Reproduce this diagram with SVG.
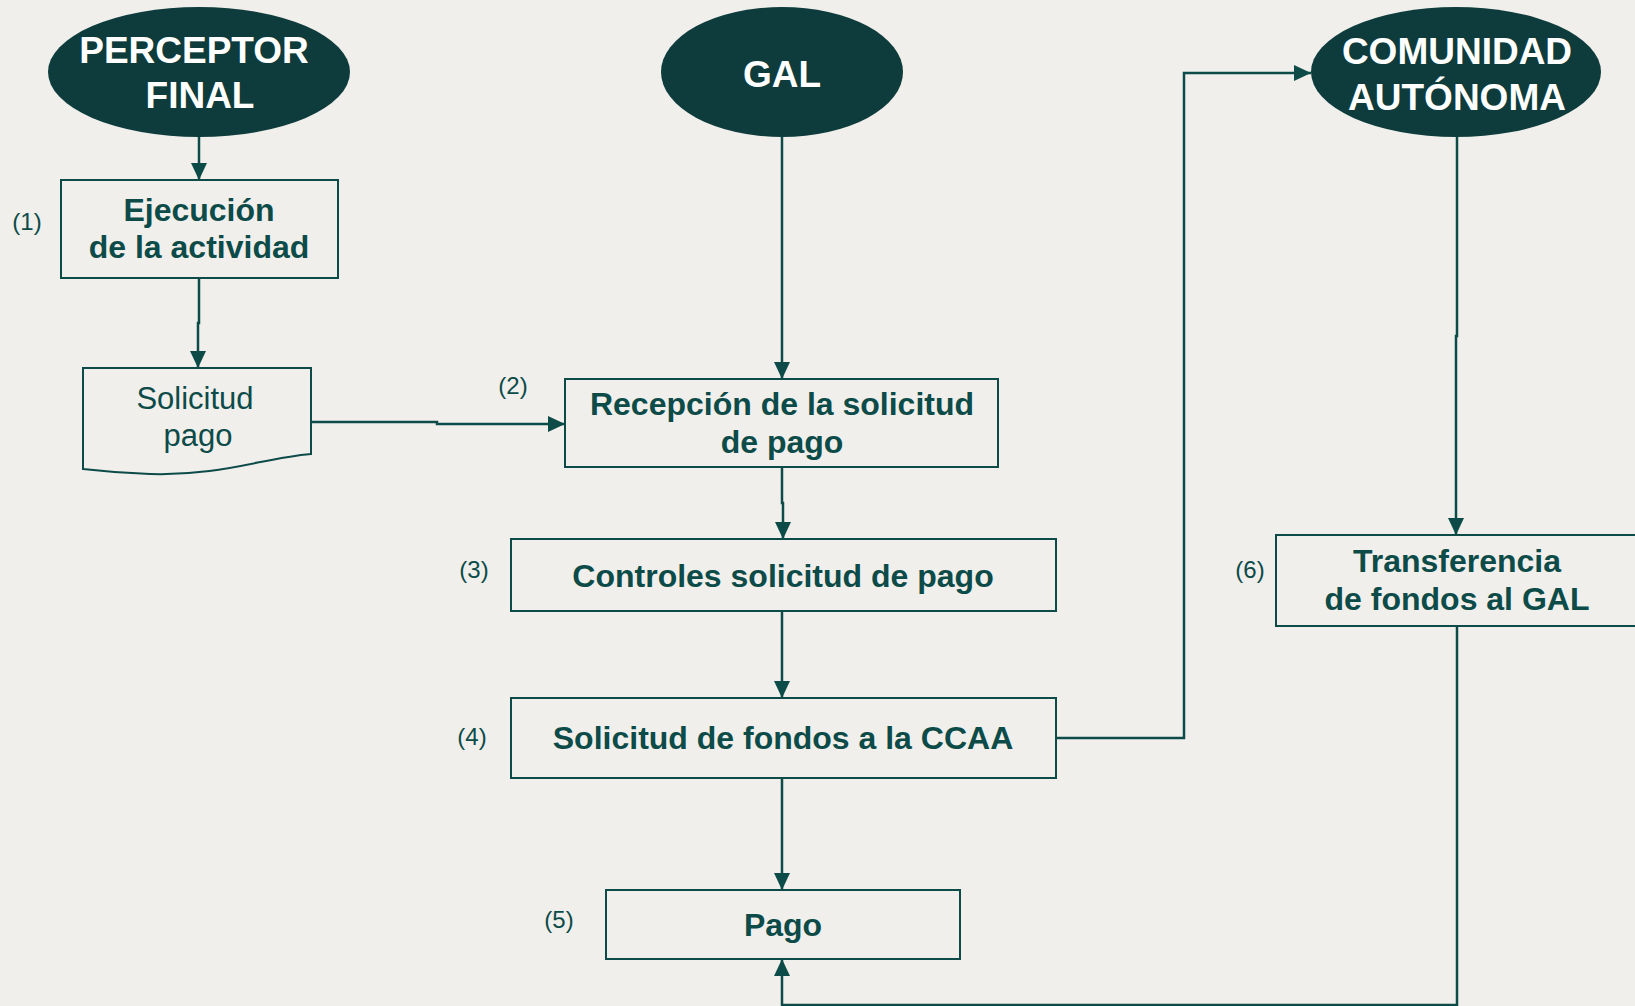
<svg xmlns="http://www.w3.org/2000/svg" width="1635" height="1006" viewBox="0 0 1635 1006">
<defs>
<style>
.bg{fill:#f0efeb}
.ell{fill:#0e3c3c}
.box{fill:none;stroke:#0c4b48;stroke-width:2}
.et{font-family:"Liberation Sans",Arial,sans-serif;font-weight:bold;font-size:37px;fill:#ffffff;text-anchor:middle}
.bt{font-family:"Liberation Sans",Arial,sans-serif;font-weight:bold;font-size:32px;fill:#0c4b48;text-anchor:middle}
.rt{font-family:"Liberation Sans",Arial,sans-serif;font-size:31px;fill:#0c4b48;text-anchor:middle}
.lb{font-family:"Liberation Sans",Arial,sans-serif;font-size:24px;fill:#0c4b48;text-anchor:middle}
.cn{fill:none;stroke:#0c4b48;stroke-width:2.5;marker-end:url(#ah)}
</style>
<marker id="ah" markerUnits="userSpaceOnUse" markerWidth="19" markerHeight="17" refX="17" refY="8" orient="auto">
<path d="M0,0 L17,8 L0,16 Z" fill="#0c4b48"/>
</marker>
</defs>
<rect class="bg" x="0" y="0" width="1635" height="1006"/>

<g id="connectors">
<path class="cn" d="M199,137 V180"/>
<path class="cn" d="M199,278 V323 H198 V368"/>
<path class="cn" d="M311,422 H437 V424 H565"/>
<path class="cn" d="M782,137 V379"/>
<path class="cn" d="M782,467 V503 H783 V539"/>
<path class="cn" d="M782,611 V698"/>
<path class="cn" d="M782,778 V890"/>
<path class="cn" d="M1056,738 H1184 V73 H1311"/>
<path class="cn" d="M1457,137 V336 H1456 V535"/>
<path class="cn" d="M1457,626 V1005 H782 V959"/>
</g>

<g id="perceptor">
<ellipse class="ell" cx="199" cy="72" rx="151" ry="65"/>
<text class="et" x="194" y="63">PERCEPTOR</text>
<text class="et" x="200" y="108">FINAL</text>
</g>

<g id="gal">
<ellipse class="ell" cx="782" cy="72" rx="121" ry="65"/>
<text class="et" x="782" y="87">GAL</text>
</g>

<g id="ccaa">
<ellipse class="ell" cx="1456" cy="72" rx="145" ry="65"/>
<text class="et" x="1457" y="64">COMUNIDAD</text>
<text class="et" x="1457" y="110">AUTÓNOMA</text>
</g>

<g id="ejecucion">
<rect class="box" x="61" y="180" width="277" height="98"/>
<text class="bt" x="199" y="221">Ejecución</text>
<text class="bt" x="199" y="258">de la actividad</text>
<text class="lb" x="27" y="230">(1)</text>
</g>

<g id="solicitud-pago">
<path class="box" d="M83,368 H311 V454 C262,458 222,476 150,474 C120,473 100,471 83,469 Z"/>
<text class="rt" x="195" y="409">Solicitud</text>
<text class="rt" x="198" y="446">pago</text>
</g>

<g id="recepcion">
<rect class="box" x="565" y="379" width="433" height="88"/>
<text class="bt" x="782" y="415">Recepción de la solicitud</text>
<text class="bt" x="782" y="453">de pago</text>
<text class="lb" x="513" y="394">(2)</text>
</g>

<g id="controles">
<rect class="box" x="511" y="539" width="545" height="72"/>
<text class="bt" x="783" y="587">Controles solicitud de pago</text>
<text class="lb" x="474" y="578">(3)</text>
</g>

<g id="solicitud-fondos">
<rect class="box" x="511" y="698" width="545" height="80"/>
<text class="bt" x="783" y="749">Solicitud de fondos a la CCAA</text>
<text class="lb" x="472" y="745">(4)</text>
</g>

<g id="pago">
<rect class="box" x="606" y="890" width="354" height="69"/>
<text class="bt" x="783" y="936">Pago</text>
<text class="lb" x="559" y="928">(5)</text>
</g>

<g id="transferencia">
<rect class="box" x="1276" y="535" width="380" height="91"/>
<text class="bt" x="1457" y="572">Transferencia</text>
<text class="bt" x="1457" y="610">de fondos al GAL</text>
<text class="lb" x="1250" y="578">(6)</text>
</g>
</svg>
